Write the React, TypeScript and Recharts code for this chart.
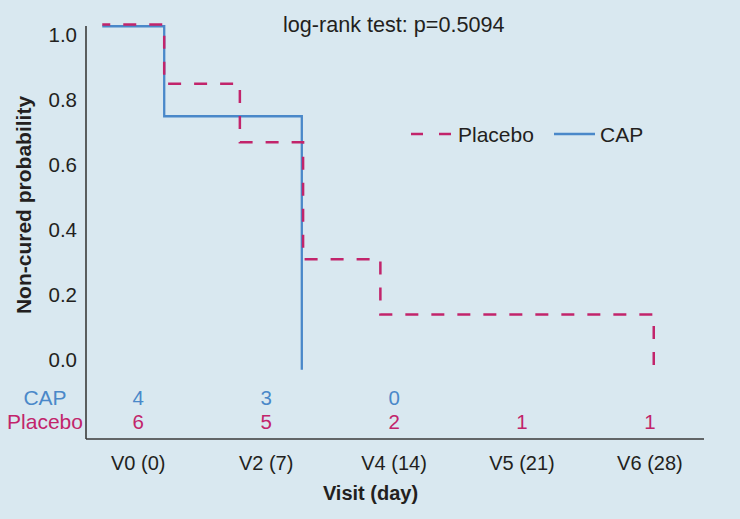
import React from 'react';
import { ComposedChart, Line, Scatter, XAxis, YAxis, ReferenceLine, Legend } from 'recharts';

// ---- data ----
const visitDays = [0, 7, 14, 21, 28];
const visitLabels = ['V0 (0)', 'V2 (7)', 'V4 (14)', 'V5 (21)', 'V6 (28)'];
const yTicks = [0, 0.2, 0.4, 0.6, 0.8, 1.0];

const capTimes = [-1.97, 1.42, 8.95];
const capSurvival = [1.027, 0.75, -0.03];

const placeboTimes = [-1.97, 1.42, 5.56, 9.02, 13.25, 28.21];
const placeboSurvival = [1.032, 0.85, 0.67, 0.31, 0.14, -0.03];

const capAtRisk = [4, 3, 0];
const placeboAtRisk = [6, 5, 2, 1, 1];

const logRankText = 'log-rank test: p=0.5094';
const seriesNames = ['Placebo', 'CAP'];

// ---- styling / layout ----
const BG = '#d9e8f0';
const INK = '#231f20';
const CAP_COLOR = '#4a88c9';
const PLACEBO_COLOR = '#c2246b';
const FONT = '"Liberation Sans", Arial, Helvetica, sans-serif';
const X_DOMAIN: [number, number] = [-2.86, 30.96];
const Y_DOMAIN: [number, number] = [-0.243, 1.04];
const Y_AXIS_TOP = 1.028;
const ROW_CAP = -0.117;
const ROW_PLACEBO = -0.191;

const capData = capTimes.map((t, i) => ({ x: t, y: capSurvival[i] }));
const placeboData = placeboTimes.map((t, i) => ({ x: t, y: placeboSurvival[i] }));
const capRiskData = capAtRisk.map((n, i) => ({ x: visitDays[i], y: ROW_CAP, n }));
const placeboRiskData = placeboAtRisk.map((n, i) => ({ x: visitDays[i], y: ROW_PLACEBO, n }));

const riskShape = (color: string) => (props: any) => (
  <text
    x={props.cx}
    y={props.cy + 7}
    textAnchor="middle"
    fill={color}
    fontSize={20.5}
    fontFamily={FONT}
  >
    {props.payload.n}
  </text>
);

const renderLegend = () => (
  <svg width={300} height={40} style={{ display: 'block' }}>
    <line x1={2} y1={20} x2={43} y2={20} stroke={PLACEBO_COLOR} strokeWidth={2.5} strokeDasharray="12 16" />
    <text x={49} y={28} fontSize={21} fontFamily={FONT} fill={INK}>{seriesNames[0]}</text>
    <line x1={145} y1={20} x2={186} y2={20} stroke={CAP_COLOR} strokeWidth={2.5} />
    <text x={191} y={28} fontSize={21} fontFamily={FONT} fill={INK}>{seriesNames[1]}</text>
  </svg>
);

export default function App() {
  return (
    <div style={{ position: 'absolute', left: 0, top: 0, width: 740, height: 519, background: BG, fontFamily: FONT }}>
      <ComposedChart
        width={740}
        height={519}
        margin={{ top: 22, right: 36, bottom: 40, left: 26 }}
      >
        <XAxis
          type="number"
          dataKey="x"
          domain={X_DOMAIN}
          ticks={visitDays}
          tickFormatter={(v: number) => visitLabels[visitDays.indexOf(v)] ?? ''}
          allowDataOverflow
          height={40}
          axisLine={{ stroke: '#3a3a3a', strokeWidth: 1.6 }}
          tickLine={false}
          tickSize={6}
          tickMargin={11}
          tick={{ fill: INK, fontSize: 20, fontFamily: FONT }}
          interval={0}
        />
        <YAxis
          type="number"
          dataKey="y"
          domain={Y_DOMAIN}
          ticks={yTicks}
          tickFormatter={(v: number) => v.toFixed(1)}
          allowDataOverflow
          width={60}
          axisLine={false}
          tickLine={false}
          tickSize={6}
          tickMargin={3}
          tick={{ fill: INK, fontSize: 20.5, fontFamily: FONT }}
          interval={0}
        />
        <ReferenceLine
          segment={[{ x: X_DOMAIN[0], y: Y_DOMAIN[0] }, { x: X_DOMAIN[0], y: Y_AXIS_TOP }]}
          stroke="#3a3a3a"
          strokeWidth={1.6}
          ifOverflow="visible"
        />
        <Line
          data={capData}
          dataKey="y"
          name={seriesNames[1]}
          type="stepAfter"
          stroke={CAP_COLOR}
          strokeWidth={2.3}
          dot={false}
          activeDot={false}
          isAnimationActive={false}
        />
        <Line
          data={placeboData}
          dataKey="y"
          name={seriesNames[0]}
          type="stepAfter"
          stroke={PLACEBO_COLOR}
          strokeWidth={2.5}
          strokeDasharray="13 13"
          strokeDashoffset={5}
          dot={false}
          activeDot={false}
          isAnimationActive={false}
        />
        <Scatter data={capRiskData} dataKey="y" shape={riskShape(CAP_COLOR)} isAnimationActive={false} />
        <Scatter data={placeboRiskData} dataKey="y" shape={riskShape(PLACEBO_COLOR)} isAnimationActive={false} />
        <Legend
          layout="horizontal"
          verticalAlign="middle"
          align="center"
          content={renderLegend}
          wrapperStyle={{ position: 'absolute', left: 409, top: 114, width: 300, height: 40 }}
        />
      </ComposedChart>
      <svg
        width={740}
        height={519}
        style={{ position: 'absolute', left: 0, top: 0, pointerEvents: 'none' }}
      >
        <text x={283} y={32} fontSize={21.6} fontFamily={FONT} fill={INK}>{logRankText}</text>
        <text x={45} y={405} textAnchor="middle" fontSize={21} fontFamily={FONT} fill={CAP_COLOR}>CAP</text>
        <text x={45} y={429} textAnchor="middle" fontSize={21} fontFamily={FONT} fill={PLACEBO_COLOR}>Placebo</text>
        <text x={370.5} y={500} textAnchor="middle" fontSize={20} fontWeight="bold" fontFamily={FONT} fill={INK}>Visit (day)</text>
        <text
          x={0}
          y={0}
          transform="translate(31, 205) rotate(-90)"
          textAnchor="middle"
          fontSize={21}
          fontWeight="bold"
          fontFamily={FONT}
          fill={INK}
        >
          Non-cured probability
        </text>
      </svg>
    </div>
  );
}
